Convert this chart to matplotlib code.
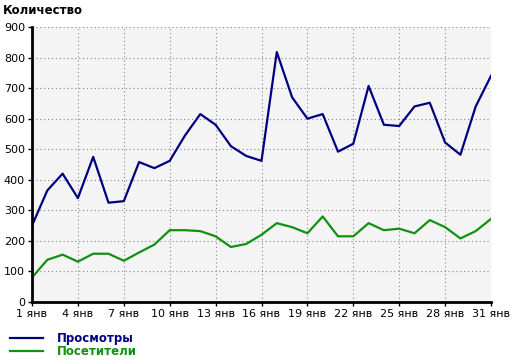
import matplotlib
matplotlib.use("Agg")
import matplotlib.pyplot as plt
from matplotlib.lines import Line2D

days = list(range(1, 32))
views = [250, 365, 420, 340, 475, 325, 330, 458, 438, 462, 545, 615, 580, 510, 478,
         462, 818, 670, 600, 615, 492, 518, 707, 580, 576, 640, 652, 522, 482, 640, 740]
visitors = [80, 138, 155, 132, 158, 158, 135, 162, 188, 235, 235, 232, 215, 180, 190,
            220, 258, 245, 225, 280, 215, 215, 258, 235, 240, 225, 268, 245, 208, 232, 272]
tick_days = list(range(1, 32, 3))
tick_labels = [f"{d} янв" for d in tick_days]
y_ticks = list(range(0, 1000, 100))

NAVY = "#000080"
GREEN = "#119111"

fig = plt.figure(figsize=(5.13, 3.63), dpi=100)
ax = fig.add_axes([32 / 513, 61 / 363, 459 / 513, 275 / 363])
ax.set_facecolor("#f4f4f4")

ax.plot(days, views, color=NAVY, lw=1.6)
ax.plot(days, visitors, color=GREEN, lw=1.6)

ax.set_xlim(1, 31)
ax.set_ylim(0, 900)
ax.set_xticks(tick_days)
ax.set_xticklabels(tick_labels)
ax.set_yticks(y_ticks)
ax.tick_params(labelsize=8, length=3, width=1, pad=2)
ax.grid(True, color="#888888", linestyle=(0, (1, 2.5)), lw=0.8)

for s in ("top", "right"):
    ax.spines[s].set_visible(False)
for s in ("left", "bottom"):
    ax.spines[s].set_linewidth(2)

fig.text(3 / 513, 1 - 10 / 363, "Количество", fontsize=8.5, fontweight="bold", va="center")

handles = [Line2D([], [], color=NAVY, lw=1.6), Line2D([], [], color=GREEN, lw=1.6)]
leg = fig.legend(handles, ["Просмотры", "Посетители"], loc="upper left",
                 bbox_to_anchor=(4 / 513, 1 - 326 / 363), frameon=False,
                 fontsize=8.5, handlelength=2.8, labelspacing=0.05, borderpad=0,
                 handletextpad=1.2)
for t, c in zip(leg.get_texts(), (NAVY, GREEN)):
    t.set_color(c)
    t.set_fontweight("bold")

fig.savefig("out.png", dpi=100)
